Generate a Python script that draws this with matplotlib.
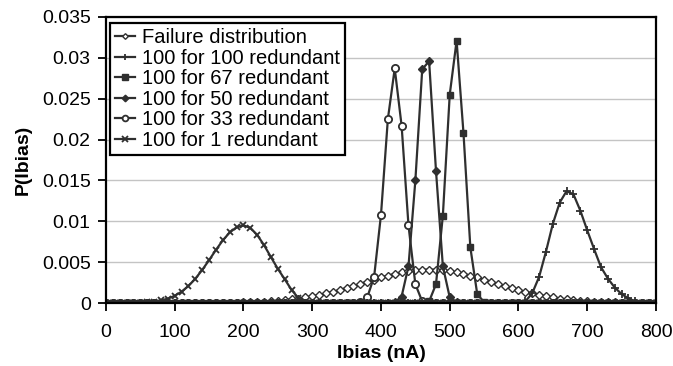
import matplotlib
matplotlib.use("Agg")
import matplotlib.pyplot as plt

plt.rcParams['font.family'] = ['Liberation Sans', 'DejaVu Sans']

# donnees (pas de 10 nA)
ibias = list(range(0, 810, 10))

failure = [0, 0, 0, 0, 0, 0, 0, 0, 0, 0, 0, 0, 0, 0, 0,
           0.00001, 0.00002, 0.00003, 0.00004, 0.00005, 0.00007, 0.0001, 0.00013, 0.00017, 0.00022,
           0.00028, 0.00036, 0.00045, 0.00055, 0.00068, 0.00083, 0.00099, 0.00118, 0.00138, 0.00161,
           0.00185, 0.0021, 0.00236, 0.00262, 0.00288, 0.00313, 0.00336, 0.00357, 0.00375, 0.0039,
           0.00401, 0.00408, 0.0041, 0.00408, 0.00401, 0.0039, 0.00375, 0.00357, 0.00336, 0.00313,
           0.00288, 0.00262, 0.00236, 0.0021, 0.00185, 0.00161, 0.00138, 0.00118, 0.00099, 0.00083,
           0.00068, 0.00055, 0.00045, 0.00036, 0.00028, 0.00022, 0.00017, 0.00013, 0.0001, 0.00007,
           0.00005, 0.00004, 0.00003, 0.00002, 0.00001, 0.00001]

red100 = [0, 0, 0, 0, 0, 0, 0, 0, 0, 0, 0, 0, 0, 0, 0, 0, 0, 0, 0, 0,
          0, 0, 0, 0, 0, 0, 0, 0, 0, 0, 0, 0, 0, 0, 0, 0, 0, 0, 0, 0,
          0, 0, 0, 0, 0, 0, 0, 0, 0, 0, 0, 0, 0, 0, 0, 0, 0, 0, 0, 0,
          0.00003, 0.0002, 0.0012, 0.0032, 0.0063, 0.0097, 0.0123, 0.0137, 0.0133, 0.0113,
          0.0089, 0.0066, 0.0044, 0.003, 0.0019, 0.0011, 0.00057, 0.0002, 0.00005, 0, 0]

red67 = [0, 0, 0, 0, 0, 0, 0, 0, 0, 0, 0, 0, 0, 0, 0, 0, 0, 0, 0, 0,
         0, 0, 0, 0, 0, 0, 0, 0, 0, 0, 0, 0, 0, 0, 0, 0, 0, 0, 0, 0,
         0, 0, 0, 0, 0, 0, 0,
         0.0002, 0.0023, 0.0107, 0.0255, 0.0321, 0.0208, 0.0068, 0.0011, 0.0001,
         0, 0, 0, 0, 0, 0, 0, 0, 0, 0, 0, 0, 0, 0, 0, 0, 0, 0, 0, 0,
         0, 0, 0, 0, 0]

red50 = [0, 0, 0, 0, 0, 0, 0, 0, 0, 0, 0, 0, 0, 0, 0, 0, 0, 0, 0, 0,
         0, 0, 0, 0, 0, 0, 0, 0, 0, 0, 0, 0, 0, 0, 0, 0, 0, 0, 0, 0,
         0, 0,
         0.0001, 0.0008, 0.0045, 0.015, 0.0286, 0.0296, 0.0162, 0.0045, 0.0007, 0.0001,
         0, 0, 0, 0, 0, 0, 0, 0, 0, 0, 0, 0, 0, 0, 0, 0, 0, 0, 0, 0,
         0, 0, 0, 0, 0, 0, 0, 0, 0]

red33 = [0, 0, 0, 0, 0, 0, 0, 0, 0, 0, 0, 0, 0, 0, 0, 0, 0, 0, 0, 0,
         0, 0, 0, 0, 0, 0, 0, 0, 0, 0, 0, 0, 0, 0, 0, 0, 0,
         0.0001, 0.0007, 0.0032, 0.0108, 0.0225, 0.0287, 0.0217, 0.0095, 0.0023, 0.0002,
         0, 0, 0, 0, 0, 0, 0, 0, 0, 0, 0, 0, 0, 0, 0, 0, 0, 0, 0, 0,
         0, 0, 0, 0, 0, 0, 0, 0, 0, 0, 0, 0, 0, 0]

red1 = [0, 0, 0, 0.00001, 0.00002, 0.00005, 0.00009, 0.00018, 0.00032, 0.00054,
        0.00089, 0.0014, 0.00209, 0.00298, 0.00406, 0.00526, 0.00651, 0.00768, 0.00864, 0.00928,
        0.0095, 0.0092, 0.00833, 0.00707, 0.00561, 0.00418, 0.00291, 0.0016, 0.0006, 0.0001,
        0.00002, 0, 0, 0, 0, 0, 0, 0, 0, 0, 0, 0, 0, 0, 0, 0, 0, 0, 0, 0,
        0, 0, 0, 0, 0, 0, 0, 0, 0, 0, 0, 0, 0, 0, 0, 0, 0, 0, 0, 0,
        0, 0, 0, 0, 0, 0, 0, 0, 0, 0, 0]

labels = ['Failure distribution', '100 for 100 redundant', '100 for 67 redundant',
          '100 for 50 redundant', '100 for 33 redundant', '100 for 1 redundant']

fig = plt.figure(figsize=(6.73, 3.66), dpi=100)
ax = fig.add_axes([0.1575, 0.172, 0.8172, 0.7816])

c = '#2f2f2f'
lw = 1.6
# ordre de trace : les marqueurs pleins en dernier (bande noire sur 0)
h0, = ax.plot(ibias, failure, color=c, lw=lw, marker='D', ms=3.6, mfc='white', mec=c, mew=1.0, label=labels[0])
h4, = ax.plot(ibias, red33, color=c, lw=lw, marker='o', ms=5.2, mfc='white', mec=c, mew=1.3, label=labels[4])
h5, = ax.plot(ibias, red1, color=c, lw=lw, marker='x', ms=4.8, mec=c, mew=1.3, label=labels[5])
h1, = ax.plot(ibias, red100, color=c, lw=lw, marker='+', ms=5.5, mec=c, mew=1.3, label=labels[1])
h3, = ax.plot(ibias, red50, color=c, lw=lw, marker='D', ms=4.2, mfc=c, mec=c, label=labels[3])
h2, = ax.plot(ibias, red67, color=c, lw=lw, marker='s', ms=5.0, mfc=c, mec=c, label=labels[2])

# axes
ax.set_xlim(0, 800)
ax.set_ylim(0, 0.035)
ax.set_xticks(range(0, 900, 100))
ax.set_yticks([0, 0.005, 0.01, 0.015, 0.02, 0.025, 0.03, 0.035])
ax.set_yticklabels(['0', '0.005', '0.01', '0.015', '0.02', '0.025', '0.03', '0.035'])
ax.tick_params(direction='out', length=6, width=1.3, labelsize=14, colors='black')
ax.tick_params(axis='x', pad=9)
ax.tick_params(axis='y', pad=5)
ax.yaxis.grid(True, color='#c4c4c4', lw=1)
ax.set_axisbelow(True)
for s in ax.spines.values():
    s.set_linewidth(1.6)
    s.set_color('black')

ax.set_xlabel('Ibias (nA)', fontsize=14, fontweight='bold', labelpad=3)
ax.set_ylabel('P(Ibias)', fontsize=14, fontweight='bold', labelpad=7)

leg = ax.legend(handles=[h0, h1, h2, h3, h4, h5], loc='upper left',
                bbox_to_anchor=(0.0073, 0.979), borderaxespad=0,
                fontsize=14.5, labelspacing=0.08, borderpad=0.25, handlelength=1.0,
                handletextpad=0.35, markerscale=0.8,
                fancybox=False, framealpha=1, edgecolor='black')
leg.get_frame().set_linewidth(1.6)

plt.savefig('out.png', dpi=100)
